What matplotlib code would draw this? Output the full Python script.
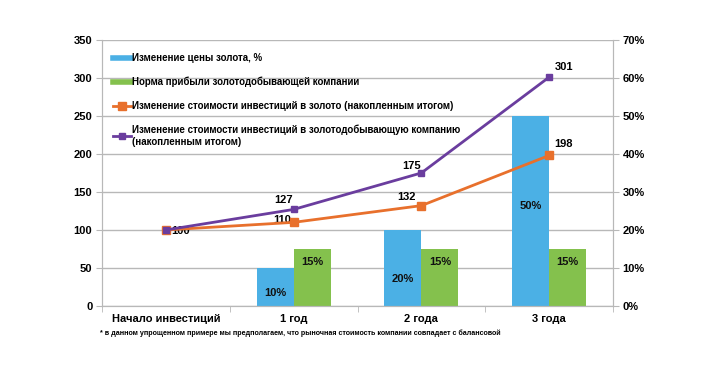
import matplotlib
matplotlib.use("Agg")
import matplotlib.pyplot as plt
from matplotlib.lines import Line2D
import numpy as np

plt.rcParams['font.family'] = ['Liberation Sans', 'DejaVu Sans']
plt.rcParams['font.weight'] = 'bold'

categories = ["Начало инвестиций", "1 год", "2 года", "3 года"]
gold_price_pct = [0, 10, 20, 50]
company_return_pct = [0, 15, 15, 15]
gold_invest = [100, 110, 132, 198]
company_invest = [100, 127, 175, 301]

names = ["Изменение цены золота, %",
         "Норма прибыли золотодобывающей компании",
         "Изменение стоимости инвестиций в золото (накопленным итогом)",
         "Изменение стоимости инвестиций в золотодобывающую компанию\n(накопленным итогом)"]

c_blue = '#4BB0E5'
c_green = '#84C14D'
c_orange = '#E8702C'
c_purple = '#6A3D9E'
c_grid = '#B8B8B8'

fig = plt.figure(figsize=(7.2, 3.66), dpi=100)
ax2 = fig.add_axes([0.1417, 0.164, 0.7097, 0.727])
ax = ax2.twinx()
# lines axis drawn on top of the bars axis
ax.set_zorder(ax2.get_zorder() + 1)
ax.patch.set_visible(False)
ax.yaxis.tick_left()
ax2.yaxis.tick_right()

x = np.arange(len(categories))
w = 0.29

b1 = ax2.bar(x - w / 2, gold_price_pct, w, color=c_blue, zorder=2)
b2 = ax2.bar(x + w / 2, company_return_pct, w, color=c_green, zorder=2)
# label heights inside bars (as placed in the original)
blue_lab_y = [0, 3.4, 7.1, 26.3]
for rect, v, yy in zip(b1, gold_price_pct, blue_lab_y):
    if v > 0:
        ax2.text(rect.get_x() + rect.get_width() / 2, yy, f"{v}%",
                 ha='center', va='center', fontsize=8, color='#111111')
for rect, v in zip(b2, company_return_pct):
    if v > 0:
        ax2.text(rect.get_x() + rect.get_width() / 2, v - 3.4, f"{v}%",
                 ha='center', va='center', fontsize=8, color='#111111')

ax2.set_ylim(0, 70)
ax2.set_yticks(np.arange(0, 71, 10))
ax2.set_yticklabels([f"{t}%" for t in range(0, 71, 10)])
ax2.yaxis.grid(True, color=c_grid, linewidth=1, zorder=0)
ax2.set_axisbelow(True)

l1, = ax.plot(x, gold_invest, color=c_orange, lw=2, marker='s', ms=6, zorder=4)
l2, = ax.plot(x, company_invest, color=c_purple, lw=2, marker='s', ms=4.5, zorder=5)
ax.set_ylim(0, 350)
ax.set_yticks(np.arange(0, 351, 50))

# data labels (offsets in points)
purple_off = [(4, -1), (-7, 7), (-7, 5), (11, 7)]
orange_off = [None, (-8, 2), (-11, 6.5), (10, 8)]
for i in range(len(x)):
    ax.annotate(str(company_invest[i]), (x[i], company_invest[i]),
                xytext=purple_off[i], textcoords='offset points',
                ha='left' if i == 0 else 'center', va='center', fontsize=8)
    if orange_off[i] is not None:
        ax.annotate(str(gold_invest[i]), (x[i], gold_invest[i]),
                    xytext=orange_off[i], textcoords='offset points',
                    ha='center', va='center', fontsize=8)

ax2.set_xlim(-0.5, 3.5)
ax2.set_xticks(x)
ax2.set_xticklabels(categories, fontsize=8)
ax2.set_xticks(np.arange(-0.5, 3.6, 1), minor=True)
ax2.tick_params(axis='x', which='major', length=0, pad=6)
ax2.tick_params(axis='x', which='minor', length=4, color=c_grid)
ax2.tick_params(axis='y', length=4, color=c_grid, labelsize=8, pad=3)
ax.tick_params(axis='y', length=4, color=c_grid, labelsize=8, pad=3)

for a in (ax, ax2):
    for s in a.spines.values():
        s.set_color(c_grid)
    a.spines['top'].set_visible(False)

h1 = Line2D([], [], color=c_blue, lw=4)
h2 = Line2D([], [], color=c_green, lw=4)
leg = ax.legend([h1, h2, l1, l2], names, loc='upper left', frameon=False,
                fontsize=7, bbox_to_anchor=(0.022, 0.95), handlelength=1.8,
                handletextpad=0.1, labelspacing=1.4, borderaxespad=0,
                borderpad=0)

fig.text(0.139, 0.09, "* в данном упрощенном примере мы предполагаем, что рыночная стоимость компании совпадает с балансовой",
         fontsize=5.1, ha='left', va='center')

fig.savefig('out.png', dpi=100)
